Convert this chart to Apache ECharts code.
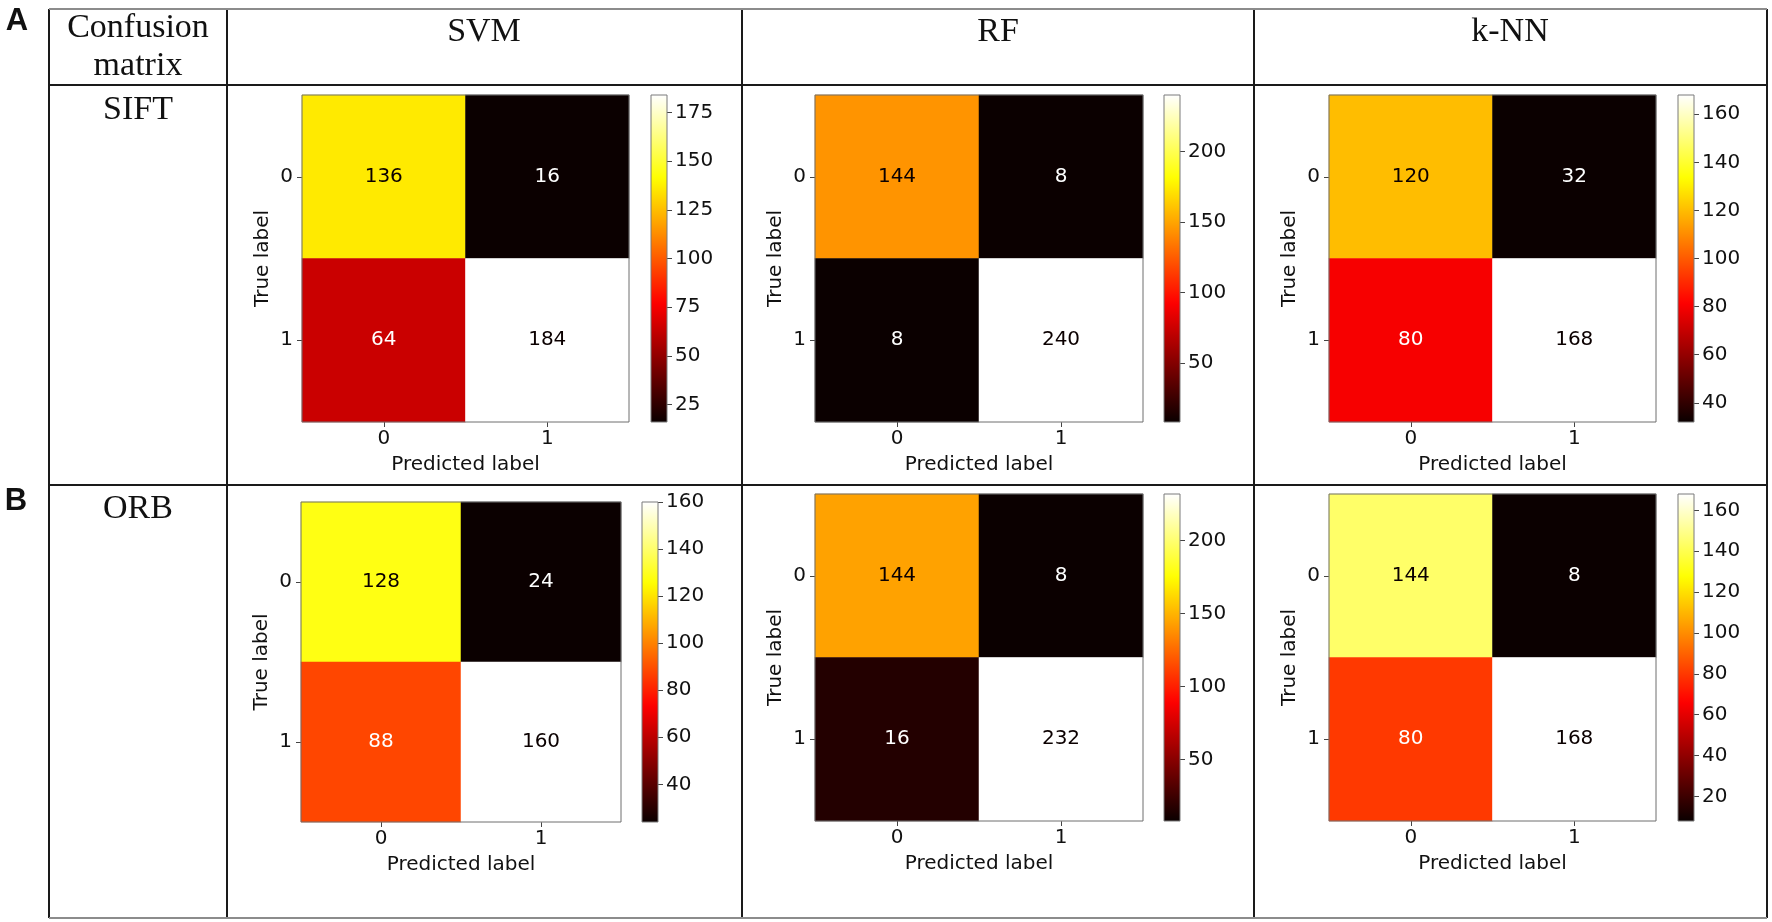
<!DOCTYPE html>
<html>
<head>
<meta charset="utf-8">
<script src="https://cdn.jsdelivr.net/npm/echarts@6/dist/echarts.min.js"></script>
<style>
  html, body { margin: 0; padding: 0; background: #fff; }
  #main { width: 1772px; height: 922px; }
</style>
</head>
<body>
<div id="main"></div>
<script>
// labels
var predictedLabels = ['0', '1'];
var trueLabels = ['0', '1'];
var classifiers = ['SVM', 'RF', 'k-NN'];
var descriptors = ['SIFT', 'ORB'];

// confusion matrices, rows = true label, cols = predicted label
var siftSvm = [[136, 16], [64, 184]];
var siftRf = [[144, 8], [8, 240]];
var siftKnn = [[120, 32], [80, 168]];
var orbSvm = [[128, 24], [88, 160]];
var orbRf = [[144, 8], [16, 232]];
var orbKnn = [[144, 8], [80, 168]];

// colorbar tick labels
var siftSvmTicks = [25, 50, 75, 100, 125, 150, 175];
var siftRfTicks = [50, 100, 150, 200];
var siftKnnTicks = [40, 60, 80, 100, 120, 140, 160];
var orbSvmTicks = [40, 60, 80, 100, 120, 140, 160];
var orbRfTicks = [50, 100, 150, 200];
var orbKnnTicks = [20, 40, 60, 80, 100, 120, 140, 160];

var FONT = 'DejaVu Sans';
var SERIF = 'Liberation Serif';
var FS = 20;

// layout of every panel: heatmap box [left, top, width, height], colorbar left
var panels = [
  { m: siftSvm, ticks: siftSvmTicks, box: [302, 95, 327, 327], cb: 651 },
  { m: siftRf, ticks: siftRfTicks, box: [815, 95, 328, 327], cb: 1164 },
  { m: siftKnn, ticks: siftKnnTicks, box: [1329, 95, 327, 327], cb: 1678 },
  { m: orbSvm, ticks: orbSvmTicks, box: [301, 502, 320, 320], cb: 642 },
  { m: orbRf, ticks: orbRfTicks, box: [815, 494, 328, 327], cb: 1164 },
  { m: orbKnn, ticks: orbKnnTicks, box: [1329, 494, 327, 327], cb: 1678 }
];

// matplotlib 'hot' colormap
function hot(t) {
  var r = t < 0.365079 ? 0.0416 + (1 - 0.0416) * t / 0.365079 : 1;
  var g = t < 0.365079 ? 0 : (t < 0.746032 ? (t - 0.365079) / (0.746032 - 0.365079) : 1);
  var b = t < 0.746032 ? 0 : (t - 0.746032) / (1 - 0.746032);
  return 'rgb(' + Math.round(r * 255) + ',' + Math.round(g * 255) + ',' + Math.round(b * 255) + ')';
}
var hotColors = [], hotStops = [];
for (var s = 0; s <= 64; s++) {
  hotColors.push(hot(s / 64));
  hotStops.push({ offset: s / 64, color: hot(s / 64) });
}

var chart = echarts.init(document.getElementById('main'));

var grids = [], xAxes = [], yAxes = [], series = [], visualMaps = [];
panels.forEach(function (p, k) {
  var flat = p.m[0].concat(p.m[1]);
  var vmin = Math.min.apply(null, flat), vmax = Math.max.apply(null, flat);
  var thresh = (vmin + vmax) / 2;
  var g = grids.length;
  grids.push({ left: p.box[0], top: p.box[1], width: p.box[2], height: p.box[3],
    show: true, backgroundColor: 'transparent', borderColor: '#6e6e6e', borderWidth: 1, z: 10 });
  grids.push({ left: p.cb, top: p.box[1], width: 16, height: p.box[3],
    show: true, backgroundColor: 'transparent', borderColor: '#7a7a7a', borderWidth: 1, z: 10 });

  xAxes.push({
    gridIndex: g, type: 'category', data: predictedLabels, position: 'bottom',
    axisLine: { show: false },
    axisTick: { show: true, alignWithLabel: true, length: 5, lineStyle: { color: '#444' } },
    axisLabel: { margin: 7, fontSize: FS, fontFamily: FONT, color: '#111' },
    splitLine: { show: false },
    name: 'Predicted label', nameLocation: 'middle', nameGap: 33,
    nameTextStyle: { fontSize: FS, fontFamily: FONT, color: '#111' }
  });
  yAxes.push({
    gridIndex: g, type: 'category', data: trueLabels, inverse: true, position: 'left',
    axisLine: { show: false },
    axisTick: { show: true, alignWithLabel: true, length: 5, lineStyle: { color: '#444' } },
    axisLabel: { margin: 9, fontSize: FS, fontFamily: FONT, color: '#111' },
    splitLine: { show: false },
    name: 'True label', nameLocation: 'middle', nameGap: 29,
    nameTextStyle: { fontSize: FS, fontFamily: FONT, color: '#111' }
  });
  xAxes.push({ gridIndex: g + 1, type: 'category', data: [''], show: false });
  yAxes.push({
    gridIndex: g + 1, type: 'value', position: 'right', min: vmin, max: vmax,
    axisLine: { show: false },
    axisTick: { show: true, length: 5, customValues: p.ticks, lineStyle: { color: '#444' } },
    axisLabel: { margin: 8, fontSize: FS, fontFamily: FONT, color: '#111', customValues: p.ticks },
    splitLine: { show: false }
  });

  var data = [];
  for (var i = 0; i < 2; i++) {
    for (var j = 0; j < 2; j++) {
      data.push({ value: [j, i, p.m[i][j]], label: { color: p.m[i][j] < thresh ? '#ffffff' : '#0b0000' } });
    }
  }
  visualMaps.push({ type: 'continuous', show: false, seriesIndex: series.length, dimension: 2,
    min: vmin, max: vmax, inRange: { color: hotColors } });
  series.push({
    type: 'heatmap', xAxisIndex: g, yAxisIndex: g, data: data,
    label: { show: true, fontSize: FS, fontFamily: FONT },
    emphasis: { disabled: true }
  });
  series.push({
    type: 'bar', xAxisIndex: g + 1, yAxisIndex: g + 1, data: [vmax], barWidth: '100%',
    itemStyle: { color: new echarts.graphic.LinearGradient(0, 1, 0, 0, hotStops) },
    emphasis: { disabled: true }
  });
});

// table frame
var colX = [49, 227, 742, 1254, 1767];
var rowY = [9, 85, 485, 918];
var graphics = [];
colX.forEach(function (x) {
  graphics.push({ type: 'line', shape: { x1: x, y1: rowY[0], x2: x, y2: rowY[3] },
    style: { stroke: '#1a1a1a', lineWidth: 2 }, z: 20 });
});
rowY.forEach(function (y, i) {
  var outer = (i === 0 || i === rowY.length - 1);
  graphics.push({ type: 'line', shape: { x1: colX[0], y1: y, x2: colX[colX.length - 1], y2: y },
    style: { stroke: outer ? '#8c8c8c' : '#1a1a1a', lineWidth: 2 }, z: 20 });
});
function txt(t, x, y, size, family, weight) {
  return { type: 'text', x: x, y: y, z: 20,
    style: { text: t, align: 'center', verticalAlign: 'middle', fontSize: size,
      fontFamily: family, fontWeight: weight || 'normal', fill: '#111' } };
}
graphics.push(txt('Confusion', 138, 28, 34, SERIF));
graphics.push(txt('matrix', 138, 66, 34, SERIF));
var colCenters = [484, 998, 1510];
classifiers.forEach(function (c, i) { graphics.push(txt(c, colCenters[i], 32, 34, SERIF)); });
graphics.push(txt(descriptors[0], 138, 110, 34, SERIF));
graphics.push(txt(descriptors[1], 138, 509, 34, SERIF));
graphics.push(txt('A', 17, 21, 31, 'Liberation Sans', 'bold'));
graphics.push(txt('B', 16, 501, 31, 'Liberation Sans', 'bold'));

chart.setOption({
  animation: false,
  backgroundColor: '#ffffff',
  grid: grids,
  xAxis: xAxes,
  yAxis: yAxes,
  visualMap: visualMaps,
  series: series,
  graphic: graphics
});
</script>
</body>
</html>
